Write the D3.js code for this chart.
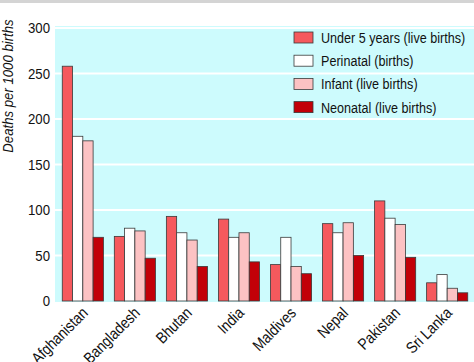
<!DOCTYPE html>
<html>
<head>
<meta charset="utf-8">
<script src="https://cdn.jsdelivr.net/npm/d3@7"></script>
<style>
  body { margin: 0; background: #fff; }
  text { font-family: "Liberation Sans", Arial, sans-serif; fill: #111; }
</style>
</head>
<body>
<div id="chart"></div>
<script>
var width = 474,
    height = 362;

var countries = ["Afghanistan", "Bangladesh", "Bhutan", "India", "Maldives", "Nepal", "Pakistan", "Sri Lanka"];
var seriesNames = ["Under 5 years (live births)", "Perinatal (births)", "Infant (live births)", "Neonatal (live births)"];
var seriesColors = ["#f5595d", "#ffffff", "#fcc2c3", "#c20008"];

var under5 = [258, 71, 93, 90, 40, 85, 110, 20];
var perinatal = [181, 80, 75, 70, 70, 75, 91, 29];
var infant = [176, 77, 67, 75, 38, 86, 84, 14];
var neonatal = [70, 47, 38, 43, 30, 50, 48, 9];

var yTicks = [0, 50, 100, 150, 200, 250, 300];

var series = [under5, perinatal, infant, neonatal];

var plotLeft = 55, plotRight = 474, plotTop = 26, plotBottom = 302;
var narrow = 0.84; // squeeze text, no narrow font here

var svg = d3.select("#chart").append("svg")
    .attr("width", width)
    .attr("height", height);

// grey strip at top
svg.append("rect")
    .attr("x", 0).attr("y", 0)
    .attr("width", width).attr("height", 3)
    .attr("fill", "#d4d4d4");

var x0 = d3.scaleBand()
    .domain(countries)
    .range([plotLeft, plotRight])
    .paddingInner(0.21)
    .paddingOuter(0.13);

var x1 = d3.scaleBand()
    .domain(d3.range(series.length))
    .range([0, x0.bandwidth()]);

var y = d3.scaleLinear()
    .domain([0, 300])
    .range([301, 28]);

svg.append("rect")
    .attr("x", plotLeft).attr("y", plotTop)
    .attr("width", plotRight - plotLeft).attr("height", plotBottom - plotTop)
    .attr("fill", "#cdfbfd");

// white gridlines
svg.selectAll(".grid")
    .data(yTicks.slice(1))
    .enter().append("line")
    .attr("class", "grid")
    .attr("x1", plotLeft).attr("x2", plotRight)
    .attr("y1", function(d) { return y(d); })
    .attr("y2", function(d) { return y(d); })
    .attr("stroke", "#fff")
    .attr("stroke-width", 2);

// y tick labels
svg.selectAll(".ylab")
    .data(yTicks)
    .enter().append("text")
    .attr("class", "ylab")
    .attr("transform", function(d) { return "translate(50," + y(d) + ") scale(0.88,1)"; })
    .attr("dy", "0.36em")
    .style("text-anchor", "end")
    .style("font-size", "15px")
    .text(function(d) { return d; });

svg.append("text")
    .attr("transform", "translate(13,86) rotate(-90) scale(0.88,1)")
    .style("text-anchor", "middle")
    .style("font-size", "15px")
    .style("font-style", "italic")
    .text("Deaths per 1000 births");

// bars
var groups = svg.selectAll(".country")
    .data(countries)
    .enter().append("g")
    .attr("class", "country")
    .attr("transform", function(d) { return "translate(" + x0(d) + ",0)"; });

groups.selectAll("rect")
    .data(function(d, i) { return series.map(function(s, j) { return {k: j, v: s[i]}; }); })
    .enter().append("rect")
    .attr("x", function(d) { return x1(d.k) + 0.5; })
    .attr("y", function(d) { return y(d.v); })
    .attr("width", x1.bandwidth())
    .attr("height", function(d) { return y(0) - y(d.v); })
    .attr("fill", function(d) { return seriesColors[d.k]; })
    .attr("stroke", "#3a3a3a")
    .attr("stroke-width", 0.8);

// x labels
svg.selectAll(".xlab")
    .data(countries)
    .enter().append("text")
    .attr("class", "xlab")
    .attr("transform", function(d) {
        return "translate(" + (x0(d) + x0.bandwidth() / 2 + 6.5) + ",314) rotate(-45) scale(0.85,1)";
    })
    .style("text-anchor", "end")
    .style("font-size", "16px")
    .text(function(d) { return d; });

// legend
var legend = svg.selectAll(".legend")
    .data(seriesNames)
    .enter().append("g")
    .attr("class", "legend")
    .attr("transform", function(d, i) { return "translate(294," + (32 + i * 23.2) + ")"; });

legend.append("rect")
    .attr("width", 19)
    .attr("height", 11)
    .attr("fill", function(d, i) { return seriesColors[i]; })
    .attr("stroke", "#3a3a3a")
    .attr("stroke-width", 0.8);

legend.append("text")
    .attr("transform", "translate(27,5.5) scale(" + narrow + ",1)")
    .attr("dy", "0.36em")
    .style("font-size", "15px")
    .text(function(d) { return d; });
</script>
</body>
</html>
